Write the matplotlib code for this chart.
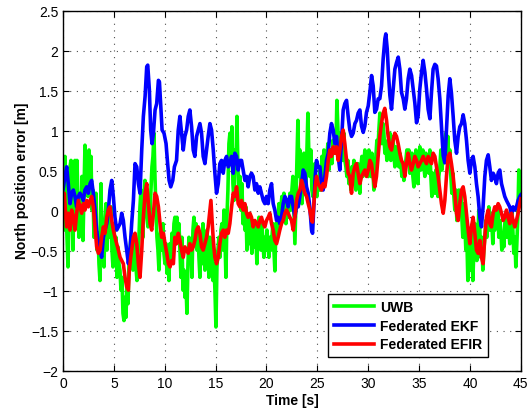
import numpy as np
import matplotlib
matplotlib.use("Agg")
import matplotlib.pyplot as plt

plt.rcParams['font.family'] = ['Liberation Sans', 'DejaVu Sans']

# UWB north error, sampled evenly over 0..45 s
uwb_v = [
    0.63, -0.24, 0.68, 0.05, -0.33, -0.70, -0.08, 0.55, 0.63, 0.18,
    -0.49, 0.34, 0.63, -0.08, 0.63, 0.09, -0.33, 0.18, -0.16, 0.43,
    -0.37, 0.26, 0.82, 0.34, 0.59, 0.18, 0.76, 0.43, 0.68, 0.01,
    0.26, -0.33, -0.16, 0.22, -0.49, -0.28, -0.66, -0.87, 0.34, -0.49,
    -0.33, -0.70, -0.12, 0.09, -0.49, -0.16, -0.03, -0.33, 0.05, -0.49,
    -0.70, -0.16, -0.58, -0.33, -0.83, -0.45, -0.66, -0.74, -0.99, -0.83,
    -1.28, -1.37, -1.08, -1.33, -0.91, -1.16, -0.66, -0.49, -0.33, -0.45,
    -0.74, -0.53, -0.41, -0.70, -0.87, -0.53, -0.33, 0.05, 0.26, -0.08,
    -0.33, 0.22, 0.38, 0.01, -0.08, -0.20, 0.05, -0.08, 0.26, 0.55,
    0.68, 0.97, 0.43, 0.01, -0.33, -0.49, -0.74, -0.33, -0.24, -0.49,
    -0.16, -0.53, -0.66, -0.41, -0.78, -0.58, -0.87, -0.41, -0.66, -0.28,
    -0.49, -0.16, -0.08, -0.41, -0.08, -0.33,
    -0.16, -0.49, -0.83, -0.33, -0.99, -0.74, -1.08, -0.91, -1.28, -0.66,
    -0.33, -0.58, -0.45, -0.83, -0.24, -0.08, -0.41, -0.16, -0.49, -0.24,
    -0.58, -0.83, -0.33, -0.66, -0.16, -0.49, -0.74, -0.41, -0.24, -0.49,
    -0.83, -0.33, -0.66, -0.41, -0.87, -0.66, -0.99, -1.45, -0.70, -0.49,
    -0.33, -0.58, -0.24, -0.16, -0.49, 0.01, -0.33, -0.83, -0.08, 0.26,
    0.84, 0.97, 0.68, 1.05, 0.34, 0.13, 0.76, 0.51, 1.18, 0.55,
    0.18, 0.43, 0.01, 0.34, -0.16, 0.09, -0.24, 0.05, -0.49, -0.16,
    -0.41, -0.08, -0.33, -0.53, -0.24, -0.45, -0.16, -0.33, -0.66, -0.24,
    -0.08, -0.33, -0.49, -0.16, -0.41, -0.58, -0.33, -0.49, -0.24, -0.41,
    -0.58, -0.33, -0.49, -0.33, -0.16, -0.49, -0.75, -0.16, -0.33, -0.08,
    0.09, -0.12, 0.05, 0.18, -0.08, 0.22, 0.05, -0.16, 0.13, -0.08,
    0.05, 0.22, 0.01, 0.26, 0.43,
    0.01, -0.41, 0.09, 0.63, 1.13, 0.43, 0.76, 0.34, 0.09, 0.51,
    0.72, 0.43, 0.26, 0.76, 1.22, 0.68, 0.43, 0.76, 0.26, 0.18,
    0.43, 0.59, 0.30, 0.18, 0.43, 0.26, 0.51, 0.26, 0.68, 0.43,
    0.76, 0.59, 0.43, 0.68, 0.84, 0.51, 0.68, 0.76, 0.59, 0.88,
    0.72, 0.97, 0.76, 1.38, 1.01, 0.68, 0.97, 0.84, 0.63, 0.76,
    0.97, 0.63, 0.55, 0.43, 0.63, 0.34, 0.51, 0.26, 0.55, 0.38,
    0.63, 0.47, 0.26, 0.43, 0.59, 0.38, 0.22, 0.55, 0.68, 0.43,
    0.59, 0.76, 0.51, 0.68, 0.43, 0.76, 0.59, 0.43, 0.72, 0.51,
    0.26, 0.43, 0.68, 0.88, 0.76, 1.01, 1.22, 1.01, 0.84, 1.09,
    0.97, 0.72, 0.84, 0.63, 0.88, 0.76, 0.97, 0.63, 0.80, 0.93,
    0.72, 0.55, 0.80, 0.59, 0.76, 0.55, 0.72, 0.59, 0.43, 0.59,
    0.38, 0.55, 0.63, 0.76, 0.59,
    0.76, 0.47, 0.59, 0.72, 0.43, 0.30, 0.59, 0.76, 0.51, 0.34,
    0.63, 0.80, 0.51, 0.68, 0.76, 0.55, 0.43, 0.72, 0.51, 0.63,
    0.47, 0.76, 0.43, 0.18, 0.47, 0.34, 0.22, 0.51, 0.34, 0.18,
    0.43, 0.55, 0.76, 0.51, 0.63, 0.84, 0.72, 0.97, 0.76, 0.93,
    0.59, 0.76, 0.43, 0.22, 0.47, 0.18, 0.01, 0.26, -0.12, 0.09,
    0.26, 0.01, 0.22, -0.08, -0.33, 0.09, -0.16, -0.49, -0.33, -0.87,
    -0.66, -0.41, -0.74, -0.24, -0.87, -0.49, -0.16, -0.41, -0.62, -0.33,
    0.01, -0.24, -0.58, -0.33, -0.74, -0.49, -0.33, -0.12, -0.33, -0.16,
    0.05, -0.24, -0.03, -0.16, -0.41, -0.08, -0.24, -0.03, -0.20, 0.01,
    -0.33, -0.12, -0.24, -0.49, -0.28, -0.45, -0.16, -0.08, -0.33, -0.03,
    -0.24, -0.41, -0.16, 0.01, -0.24, -0.53, -0.33, -0.70, -0.41, -0.08,
    0.51, 0.26, 0.09,
]
uwb_t = np.linspace(0, 45, len(uwb_v))

# Federated EKF
ekf_t = [
    0.0, 0.20, 0.36, 0.52, 0.69, 0.85,
    1.02, 1.18, 1.34, 1.51, 1.67, 1.84,
    2.00, 2.16, 2.33, 2.49, 2.66, 2.82, 2.98,
    3.15, 3.31, 3.48, 3.64, 3.80, 3.97,
    4.13, 4.30, 4.46, 4.62, 4.79, 4.95,
    5.11, 5.28, 5.44, 5.61, 5.77, 5.93,
    6.10, 6.26, 6.43, 6.59, 6.75, 6.92,
    7.08, 7.25, 7.41, 7.57, 7.74, 7.90,
    8.07, 8.23, 8.33, 8.49, 8.62, 8.75, 8.89,
    9.05, 9.21, 9.38, 9.48, 9.61, 9.74, 9.93,
    10.13, 10.26, 10.43, 10.59, 10.79, 10.95,
    11.16, 11.33, 11.49, 11.65, 11.82, 11.98,
    12.15, 12.31, 12.47, 12.64, 12.80, 12.96,
    13.13, 13.29, 13.46, 13.62, 13.78, 13.95,
    14.11, 14.27, 14.44, 14.60, 14.77, 14.93,
    15.09, 15.26, 15.42, 15.58, 15.75, 15.91,
    16.08, 16.24, 16.40, 16.57, 16.73, 16.89,
    17.06, 17.22, 17.39, 17.55, 17.71, 17.88,
    18.04, 18.20, 18.37, 18.53, 18.69, 18.86,
    19.02, 19.19, 19.35, 19.51, 19.68, 19.84,
    20.00, 20.17, 20.33, 20.50, 20.66, 20.82, 20.99,
    21.15, 21.31, 21.48, 21.64, 21.81, 21.97,
    22.13, 22.30, 22.46, 22.63, 22.79, 22.95,
    23.12, 23.28, 23.45, 23.61, 23.77, 23.94,
    24.10, 24.26, 24.43, 24.53, 24.66, 24.79, 24.92,
    25.08, 25.25, 25.41, 25.57, 25.74, 25.90,
    26.07, 26.23, 26.39, 26.56, 26.72, 26.88,
    27.05, 27.21, 27.38, 27.54, 27.70, 27.87,
    28.03, 28.19, 28.36, 28.52, 28.69, 28.85,
    29.01, 29.18, 29.34, 29.51, 29.67, 29.83,
    30.00, 30.16, 30.33, 30.49, 30.65, 30.82, 30.98,
    31.14, 31.31, 31.47, 31.64, 31.73, 31.87,
    32.00, 32.13, 32.29, 32.45, 32.62, 32.78, 32.95,
    33.11, 33.27, 33.44, 33.60, 33.76, 33.93,
    34.09, 34.26, 34.42, 34.58, 34.75, 34.91,
    35.07, 35.24, 35.40, 35.57, 35.73, 35.89,
    36.06, 36.22, 36.38, 36.55, 36.71, 36.87,
    37.04, 37.20, 37.37, 37.53, 37.69, 37.86,
    38.02, 38.18, 38.35, 38.51, 38.68, 38.84,
    39.00, 39.17, 39.33, 39.49, 39.66, 39.82, 39.99,
    40.15, 40.31, 40.48, 40.64, 40.80, 40.97,
    41.13, 41.29, 41.46, 41.62, 41.79, 41.95,
    42.11, 42.28, 42.44, 42.60, 42.77, 42.93,
    43.10, 43.26, 43.42, 43.59, 43.75, 43.91,
    44.08, 44.24, 44.41, 44.57, 44.73, 44.90, 45.0,
]
ekf_v = [
    0.26, 0.43, 0.55, 0.34, 0.09, 0.22,
    0.26, 0.18, 0.05, 0.18, 0.22, 0.18,
    0.13, 0.26, 0.30, 0.22, 0.34, 0.38, 0.22,
    0.01, -0.24, -0.41, -0.49, -0.58, -0.33,
    -0.24, -0.16, 0.01, 0.26, 0.38, 0.18,
    -0.08, -0.24, -0.20, -0.16, -0.03, -0.12,
    -0.33, -0.49, -0.66, -0.49, -0.16, 0.13,
    0.59, 0.55, 0.34, 0.22, 0.76, 1.18,
    1.43, 1.80, 1.82, 1.51, 1.01, 0.84, 0.97,
    1.26, 1.34, 1.63, 1.61, 1.30, 1.01, 0.97,
    0.84, 0.63, 0.38, 0.30, 0.38, 0.55,
    0.63, 1.01, 1.18, 0.97, 0.76, 0.93,
    1.01, 1.18, 1.26, 1.05, 0.76, 0.68,
    0.93, 1.01, 1.09, 0.97, 0.68, 0.59,
    0.76, 0.93, 1.09, 1.01, 0.76, 0.47,
    0.22, 0.34, 0.59, 0.63, 0.47, 0.63,
    0.68, 0.55, 0.59, 0.68, 0.47, 0.72,
    0.68, 0.51, 0.63, 0.63, 0.51, 0.38,
    0.43, 0.30, 0.43, 0.47, 0.43, 0.26,
    0.34, 0.22, 0.30, 0.22, 0.13, 0.09,
    0.18, 0.09, 0.26, 0.34, 0.09, 0.01, -0.12,
    -0.08, -0.16, -0.08, 0.09, 0.18, 0.13,
    0.05, 0.18, 0.18, 0.05, -0.08, 0.05,
    0.05, 0.18, 0.34, 0.51, 0.47, 0.30,
    0.22, 0.05, -0.24, -0.28, 0.09, 0.43, 0.63,
    0.55, 0.55, 0.34, 0.26, 0.43, 0.63,
    0.72, 0.97, 1.09, 1.01, 0.84, 0.93,
    0.68, 0.51, 0.88, 1.26, 1.34, 1.38,
    1.18, 1.01, 0.93, 0.97, 1.09, 1.13,
    1.22, 1.26, 1.06, 0.98, 1.06, 1.23,
    1.31, 1.48, 1.69, 1.56, 1.23, 1.27, 1.40,
    1.40, 1.56, 1.90, 2.15, 2.21, 2.02,
    1.69, 1.44, 1.27, 1.52, 1.77, 1.85, 1.92,
    1.77, 1.48, 1.40, 1.27, 1.40, 1.65,
    1.77, 1.69, 1.52, 1.35, 1.10, 1.19,
    1.52, 1.73, 1.88, 1.73, 1.52, 1.27,
    1.15, 1.48, 1.77, 1.83, 1.81, 1.65,
    1.40, 1.06, 0.69, 0.60, 1.02, 1.44,
    1.65, 1.47, 1.18, 0.88, 0.72, 0.93,
    1.05, 1.09, 1.20, 1.09, 0.88, 0.63, 0.47,
    0.63, 0.68, 0.55, 0.34, 0.18, -0.08,
    -0.20, 0.05, 0.43, 0.63, 0.70, 0.55,
    0.38, 0.47, 0.43, 0.34, 0.47, 0.51,
    0.34, 0.26, 0.18, 0.13, 0.09, 0.05,
    -0.03, 0.05, 0.01, 0.05, 0.13, 0.18, 0.20,
]

# Federated EFIR
efir_t = [
    0.03, 0.13, 0.23, 0.36, 0.52, 0.69, 0.85,
    1.02, 1.18, 1.34, 1.51, 1.67, 1.84,
    2.00, 2.16, 2.33, 2.49, 2.66, 2.82, 2.98,
    3.15, 3.31, 3.48, 3.64, 3.80, 3.97,
    4.13, 4.30, 4.46, 4.62, 4.79, 4.95,
    5.11, 5.28, 5.44, 5.61, 5.77, 5.93,
    6.10, 6.26, 6.43, 6.52, 6.66, 6.79, 6.92,
    7.08, 7.25, 7.41, 7.57, 7.74, 7.90,
    8.07, 8.23, 8.39, 8.56, 8.72, 8.89,
    9.05, 9.21, 9.38, 9.54, 9.70, 9.87,
    10.03, 10.20, 10.36, 10.52, 10.69, 10.85,
    11.00, 11.16, 11.33, 11.49, 11.65, 11.82, 11.98,
    12.15, 12.31, 12.47, 12.64, 12.80, 12.96,
    13.13, 13.29, 13.46, 13.62, 13.78, 13.95,
    14.11, 14.27, 14.44, 14.54, 14.67, 14.80, 14.93,
    15.09, 15.26, 15.42, 15.58, 15.75, 15.91,
    16.08, 16.24, 16.40, 16.57, 16.73, 16.89,
    17.06, 17.22, 17.39, 17.55, 17.71, 17.88,
    18.04, 18.20, 18.37, 18.53, 18.69, 18.86,
    19.02, 19.19, 19.35, 19.51, 19.68, 19.84,
    20.00, 20.17, 20.33, 20.50, 20.66, 20.82, 20.99,
    21.15, 21.31, 21.48, 21.64, 21.81, 21.97,
    22.13, 22.30, 22.46, 22.63, 22.79, 22.95,
    23.12, 23.28, 23.45, 23.61, 23.77, 23.94,
    24.10, 24.26, 24.43, 24.53, 24.66, 24.79, 24.92,
    25.08, 25.25, 25.41, 25.57, 25.74, 25.90,
    26.07, 26.23, 26.39, 26.56, 26.72, 26.88,
    27.05, 27.21, 27.38, 27.54, 27.70, 27.87,
    28.03, 28.19, 28.36, 28.52, 28.69, 28.85,
    29.01, 29.18, 29.34, 29.51, 29.67, 29.83,
    30.00, 30.16, 30.32, 30.49, 30.65, 30.81, 30.98,
    31.14, 31.30, 31.47, 31.63, 31.80, 31.96,
    32.12, 32.29, 32.45, 32.61, 32.78, 32.94,
    33.11, 33.27, 33.43, 33.60, 33.76, 33.92,
    34.09, 34.25, 34.42, 34.58, 34.75, 34.91,
    35.07, 35.24, 35.40, 35.56, 35.73, 35.89,
    36.06, 36.22, 36.38, 36.55, 36.71, 36.87,
    37.04, 37.20, 37.37, 37.53, 37.69, 37.86,
    38.02, 38.18, 38.35, 38.51, 38.68, 38.84,
    39.00, 39.17, 39.33, 39.49, 39.66, 39.82, 39.99,
    40.15, 40.31, 40.48, 40.64, 40.80, 40.97,
    41.13, 41.29, 41.46, 41.62, 41.79, 41.95,
    42.11, 42.28, 42.44, 42.60, 42.77, 42.93,
    43.10, 43.26, 43.42, 43.59, 43.75, 43.91,
    44.08, 44.24, 44.41, 44.57, 44.73, 44.90, 45.0,
]
efir_v = [
    -0.08, 0.22, 0.01, -0.20, -0.03, -0.24, 0.01,
    -0.08, -0.24, -0.03, 0.13, 0.05, -0.03,
    0.09, 0.01, 0.13, 0.05, 0.13, 0.18, 0.05,
    -0.20, -0.45, -0.53, -0.49, -0.33, -0.20,
    -0.28, -0.08, 0.01, 0.05, -0.12, -0.24,
    -0.33, -0.41, -0.49, -0.58, -0.62, -0.66,
    -0.83, -0.95, -0.99, -0.74, -0.58, -0.45, -0.33,
    -0.28, -0.41, -0.66, -0.83, -0.49, -0.08,
    0.22, 0.34, 0.09, -0.16, -0.24, -0.03,
    0.22, 0.18, 0.05, -0.16, -0.33, -0.28,
    -0.41, -0.53, -0.66, -0.70, -0.62, -0.66,
    -0.33, -0.41, -0.28, -0.37, -0.49, -0.58, -0.45,
    -0.49, -0.53, -0.41, -0.49, -0.45, -0.37,
    -0.24, -0.20, -0.28, -0.45, -0.49, -0.41,
    -0.33, -0.20, 0.01, 0.13, -0.16, -0.41, -0.58,
    -0.66, -0.58, -0.41, -0.28, -0.24, -0.33,
    -0.24, -0.28, -0.16, 0.05, 0.22, 0.18,
    0.30, 0.09, 0.05, 0.13, 0.01, 0.09,
    -0.03, -0.08, -0.03, -0.08, -0.20, -0.12,
    -0.16, -0.20, -0.12, -0.08, -0.16, -0.20,
    -0.12, -0.08, -0.03, -0.16, -0.24, -0.37, -0.41,
    -0.33, -0.24, -0.16, -0.12, -0.03, 0.01,
    -0.03, -0.08, -0.12, -0.24, -0.08, 0.13,
    0.22, 0.26, 0.38, 0.30, 0.22, 0.18,
    0.09, 0.01, -0.12, -0.14, 0.09, 0.30, 0.43,
    0.34, 0.30, 0.26, 0.34, 0.30, 0.43,
    0.63, 0.76, 0.68, 0.80, 0.72, 0.80,
    0.63, 0.76, 0.93, 1.01, 0.84, 0.63,
    0.47, 0.43, 0.22, 0.47, 0.55, 0.59,
    0.47, 0.34, 0.43, 0.47, 0.51, 0.43,
    0.51, 0.63, 0.59, 0.43, 0.30, 0.43, 0.68,
    0.93, 1.09, 1.22, 1.28, 1.13, 0.93,
    0.80, 0.76, 0.88, 0.97, 0.93, 0.84,
    0.72, 0.63, 0.59, 0.43, 0.59, 0.72,
    0.59, 0.51, 0.59, 0.68, 0.63, 0.55,
    0.59, 0.63, 0.68, 0.63, 0.59, 0.68,
    0.63, 0.59, 0.72, 0.68, 0.55, 0.43,
    0.26, 0.09, -0.03, 0.13, 0.43, 0.68,
    0.72, 0.59, 0.43, 0.22, -0.03, -0.12,
    0.09, 0.26, 0.30, 0.18, -0.03, -0.24, -0.41,
    -0.20, -0.08, -0.28, -0.49, -0.53, -0.37,
    -0.58, -0.66, -0.33, -0.08, 0.01, -0.16,
    -0.20, -0.03, 0.05, 0.01, 0.09, 0.05,
    -0.03, -0.12, -0.08, 0.01, -0.08, -0.16,
    -0.03, -0.12, -0.20, -0.12, -0.03, 0.09, 0.15,
]

series_labels = ['UWB', 'Federated EKF', 'Federated EFIR']
x_ticks = np.arange(0, 46, 5)
y_ticks = np.arange(-2, 2.51, 0.5)


def main():
    fig = plt.figure(figsize=(5.32, 4.10), dpi=100)
    ax = fig.add_axes([0.1184, 0.0927, 0.8606, 0.8788])

    ax.plot(uwb_t, uwb_v, color=(0, 1, 0), lw=2.6, label=series_labels[0])
    ax.plot(ekf_t, ekf_v, color=(0, 0, 1), lw=2.6, label=series_labels[1])
    ax.plot(efir_t, efir_v, color=(1, 0, 0), lw=2.6, label=series_labels[2])

    ax.set_xlim(0, 45)
    ax.set_ylim(-2, 2.5)
    ax.set_xticks(x_ticks)
    ax.set_yticks(y_ticks)
    ax.set_yticklabels([('%g' % v).replace('-', '\u2212') for v in y_ticks])
    ax.tick_params(direction='in', top=True, right=True, labelsize=10,
                   length=4, width=0.8)
    ax.grid(True, linestyle=(0, (1, 5)), color='0.3', lw=0.8)
    for s in ax.spines.values():
        s.set_linewidth(1.0)

    ax.set_xlabel('Time [s]', fontsize=10, fontweight='bold', labelpad=2)
    ax.set_ylabel('North position error [m]', fontsize=10, fontweight='bold')
    ax.yaxis.set_label_coords(-0.075, 0.53)

    leg = ax.legend(loc='lower right', bbox_to_anchor=(0.928, 0.039),
                    borderaxespad=0, fancybox=False, framealpha=1,
                    edgecolor='black', handlelength=2.9, handletextpad=0.45,
                    labelspacing=0.35, borderpad=0.4,
                    prop={'weight': 'bold', 'size': 10})
    leg.get_frame().set_linewidth(1.0)

    fig.savefig('out.png', dpi=100)


if __name__ == "__main__":
    main()
